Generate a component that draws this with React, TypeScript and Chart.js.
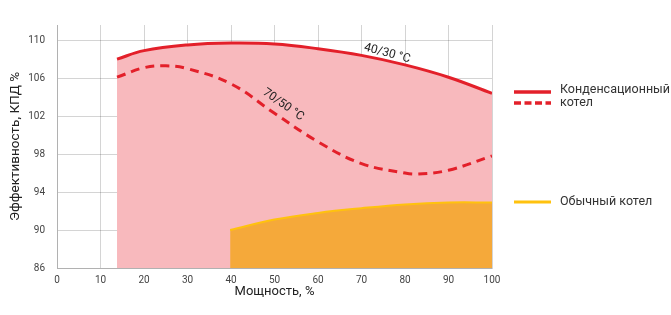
import React, { useEffect, useRef } from "react";
import { Chart, registerables } from "chart.js";

Chart.register(...registerables);

const solidX = [13.8, 20, 30, 40, 50, 60, 70, 80, 90, 100];
const solidY = [108.0, 108.9, 109.5, 109.7, 109.6, 109.1, 108.4, 107.4, 106.1, 104.4];
const dashedX = [13.8, 20, 25, 30, 40, 50, 60, 70, 80, 83, 90, 100];
const dashedY = [106.1, 107.1, 107.3, 107.0, 105.4, 102.3, 99.3, 97.0, 96.0, 95.9, 96.3, 97.8];
const normalX = [39.8, 50, 60, 70, 80, 90, 100];
const normalY = [90.0, 91.1, 91.8, 92.3, 92.7, 92.9, 92.9];
const yTicks = [86, 90, 94, 98, 102, 106, 110];
const legendItems = ["Конденсационный", "котел", "Обычный котел"];
const curveLabels = ["40/30 °C", "70/50 °C"];

const RED = "#e3202a";
const PINK = "#f8b9bd";
const ORANGE = "#f5a93a";
const YELLOW = "#ffc20e";
const FONT = "Roboto, 'DejaVu Sans', sans-serif";

const zip = (xs: number[], ys: number[]) => xs.map((x, i) => ({ x, y: ys[i] }));

const overlay = {
  id: "overlay",
  afterDraw(chart: any) {
    const ctx = chart.ctx;
    const xs = chart.scales.x;
    const ys = chart.scales.y;
    ctx.save();
    ctx.fillStyle = "#222";
    ctx.font = `12px ${FONT}`;
    ctx.textAlign = "center";
    ctx.textBaseline = "middle";
    const labs = [
      { t: curveLabels[0], x: 75.9, y: 108.6, a: 15 },
      { t: curveLabels[1], x: 52.0, y: 103.2, a: 35 },
    ];
    labs.forEach((l) => {
      ctx.save();
      ctx.translate(xs.getPixelForValue(l.x), ys.getPixelForValue(l.y));
      ctx.rotate((l.a * Math.PI) / 180);
      ctx.fillText(l.t, 0, 0);
      ctx.restore();
    });
    ctx.lineWidth = 3.5;
    ctx.strokeStyle = RED;
    ctx.beginPath();
    ctx.moveTo(514, 92);
    ctx.lineTo(551, 92);
    ctx.stroke();
    ctx.setLineDash([7, 3.5]);
    ctx.beginPath();
    ctx.moveTo(514, 103);
    ctx.lineTo(551, 103);
    ctx.stroke();
    ctx.setLineDash([]);
    ctx.strokeStyle = YELLOW;
    ctx.lineWidth = 3;
    ctx.beginPath();
    ctx.moveTo(514, 202);
    ctx.lineTo(551, 202);
    ctx.stroke();
    ctx.fillStyle = "#333";
    ctx.font = `12.5px ${FONT}`;
    ctx.textAlign = "left";
    ctx.fillText(legendItems[0], 560, 90);
    ctx.fillText(legendItems[1], 560, 103);
    ctx.fillText(legendItems[2], 560, 202);
    ctx.restore();
  },
};

export default function App() {
  const ref = useRef<HTMLCanvasElement>(null);
  useEffect(() => {
    if (!ref.current) return;
    const chart = new Chart(ref.current, {
      type: "line",
      data: {
        datasets: [
          {
            data: zip(normalX, normalY),
            borderColor: YELLOW,
            borderWidth: 2,
            backgroundColor: ORANGE,
            fill: "start",
            pointRadius: 0,
            tension: 0.4,
            order: 1,
          },
          {
            data: zip(dashedX, dashedY),
            borderColor: RED,
            borderWidth: 3,
            borderDash: [9, 6],
            fill: false,
            pointRadius: 0,
            tension: 0.4,
            order: 2,
          },
          {
            data: zip(solidX, solidY),
            borderColor: RED,
            borderWidth: 3,
            backgroundColor: PINK,
            fill: "start",
            pointRadius: 0,
            tension: 0.4,
            order: 3,
          },
        ],
      },
      options: {
        responsive: false,
        animation: false,
        layout: { padding: { left: 0, right: 179, top: 25, bottom: 0 } },
        plugins: { legend: { display: false }, tooltip: { enabled: false } },
        scales: {
          x: {
            type: "linear",
            min: 0,
            max: 100,
            z: 1,
            ticks: { stepSize: 10, color: "#444", font: { size: 10, family: FONT }, padding: 6, maxRotation: 0 },
            grid: { color: "rgba(0,0,0,0.17)", drawTicks: false },
            border: { color: "rgba(0,0,0,0.17)" },
            title: { display: true, text: "Мощность, %", color: "#222", font: { size: 13, family: FONT }, padding: { top: 0, bottom: 15 } },
            afterFit: (s: any) => { s.height = 47; },
          },
          y: {
            type: "linear",
            min: 86,
            max: 111.6,
            z: 1,
            afterBuildTicks: (s: any) => { s.ticks = yTicks.map((v) => ({ value: v })); },
            ticks: { color: "#444", font: { size: 10, family: FONT }, padding: 12 },
            grid: { color: "rgba(0,0,0,0.17)", drawTicks: false },
            border: { color: "rgba(0,0,0,0.17)" },
            title: { display: true, text: "Эффективность, КПД %", color: "#222", font: { size: 13.5, family: FONT }, padding: { top: 8, bottom: 0 } },
            afterFit: (s: any) => { s.width = 57; },
          },
        },
      },
      plugins: [overlay],
    } as any);
    return () => chart.destroy();
  }, []);
  return (
    <div style={{ position: "absolute", left: 0, top: 0, width: 671, height: 315, background: "#fff" }}>
      <canvas ref={ref} width={671} height={315} />
    </div>
  );
}
